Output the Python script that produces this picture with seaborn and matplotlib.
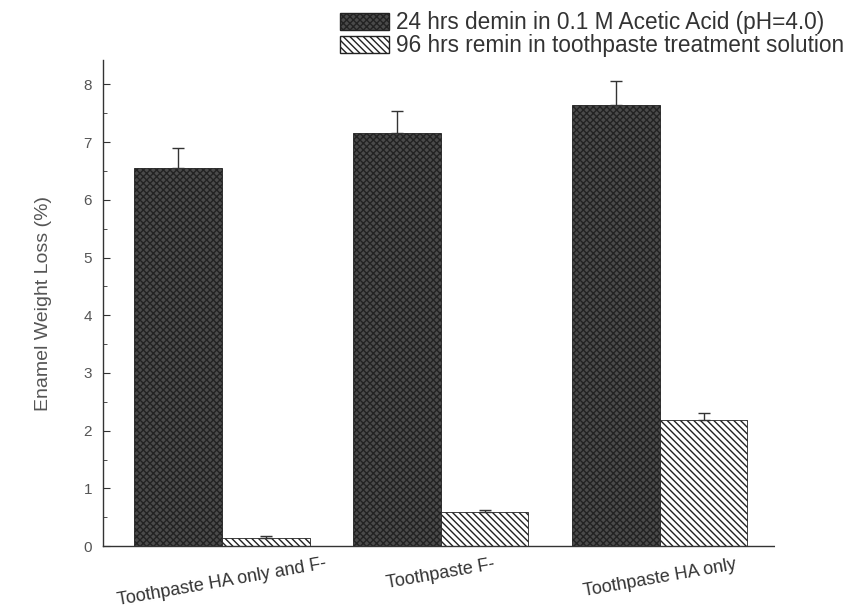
import matplotlib
matplotlib.use("Agg")
import matplotlib.pyplot as plt
import seaborn as sns
import pandas as pd
import numpy as np

categories = ["Toothpaste HA only and F-", "Toothpaste F-", "Toothpaste HA only"]
series_names = ["24 hrs demin in 0.1 M Acetic Acid (pH=4.0)",
                "96 hrs remin in toothpaste treatment solution"]
demin_values = [6.55, 7.15, 7.65]
demin_err = [0.35, 0.38, 0.40]
remin_values = [0.15, 0.60, 2.18]
remin_err = [0.02, 0.03, 0.12]
y_ticks = [0, 1, 2, 3, 4, 5, 6, 7, 8]

df = pd.DataFrame({
    "cat": categories * 2,
    "series": [series_names[0]] * 3 + [series_names[1]] * 3,
    "val": demin_values + remin_values,
})

sns.set_theme(style="white")
plt.rcParams['font.family'] = ['Liberation Sans', 'DejaVu Sans']
plt.rcParams['hatch.linewidth'] = 1.0

fig = plt.figure(figsize=(8.59, 6.13), dpi=100)
ax = fig.add_axes([0.12, 0.109, 0.782, 0.793])

sns.barplot(data=df, x="cat", y="val", hue="series", order=categories,
            hue_order=series_names, palette=["#4a4a4a", "white"],
            width=0.8, ax=ax, errorbar=None, legend=True)

hatches = ["xxxxx", "\\\\\\\\\\"]
bar_conts = list(ax.containers)
for i, cont in enumerate(bar_conts):
    for p in cont.patches:
        p.set_hatch(hatches[i])
        p.set_edgecolor("#222222")
        p.set_linewidth(0.6)

errs = [demin_err, remin_err]
vals = [demin_values, remin_values]
for i, cont in enumerate(bar_conts):
    xs = [p.get_x() + p.get_width() / 2 for p in cont.patches]
    ax.errorbar(xs, vals[i], yerr=[np.zeros(3), errs[i]], fmt="none",
                ecolor="#333333", elinewidth=1.0, capsize=4, capthick=1.0)

ax.set_xlim(-0.543, 2.525)
ax.set_ylim(0, 8.42)
ax.set_yticks(y_ticks)
ax.set_yticks(np.arange(0.5, 8.5, 1.0), minor=True)
ax.tick_params(axis="y", which="major", direction="in", length=5, width=0.8,
               left=True, labelsize=11, labelcolor="#555555", color="#333333", pad=8)
ax.tick_params(axis="y", which="minor", direction="in", length=3, width=0.6,
               left=True, color="#333333")
ax.tick_params(axis="x", length=0, labelsize=13, labelcolor="#333333", pad=7)
for lbl in ax.get_xticklabels():
    lbl.set_rotation(10)
    lbl.set_ha("center")

for s in ["top", "right"]:
    ax.spines[s].set_visible(False)
for s in ["left", "bottom"]:
    ax.spines[s].set_color("#333333")
    ax.spines[s].set_linewidth(1.0)
    ax.spines[s].set_linestyle((0, (3, 1)))

ax.set_xlabel("")
ax.set_ylabel("Enamel Weight Loss (%)", fontsize=14, color="#555555", labelpad=23)

handles, labels = ax.get_legend_handles_labels()
ax.get_legend().remove()
for h, hat in zip(handles, hatches):
    h.set_hatch(hat)
    h.set_edgecolor("#222222")
leg = fig.legend(handles, labels, loc="upper right", bbox_to_anchor=(0.996, 1.0),
                 frameon=False, fontsize=16.3, handlelength=2.2, handleheight=0.8,
                 handletextpad=0.3, labelspacing=0.0, borderaxespad=0.1)
for t in leg.get_texts():
    t.set_color("#333333")

fig.savefig("out.png", dpi=100)
